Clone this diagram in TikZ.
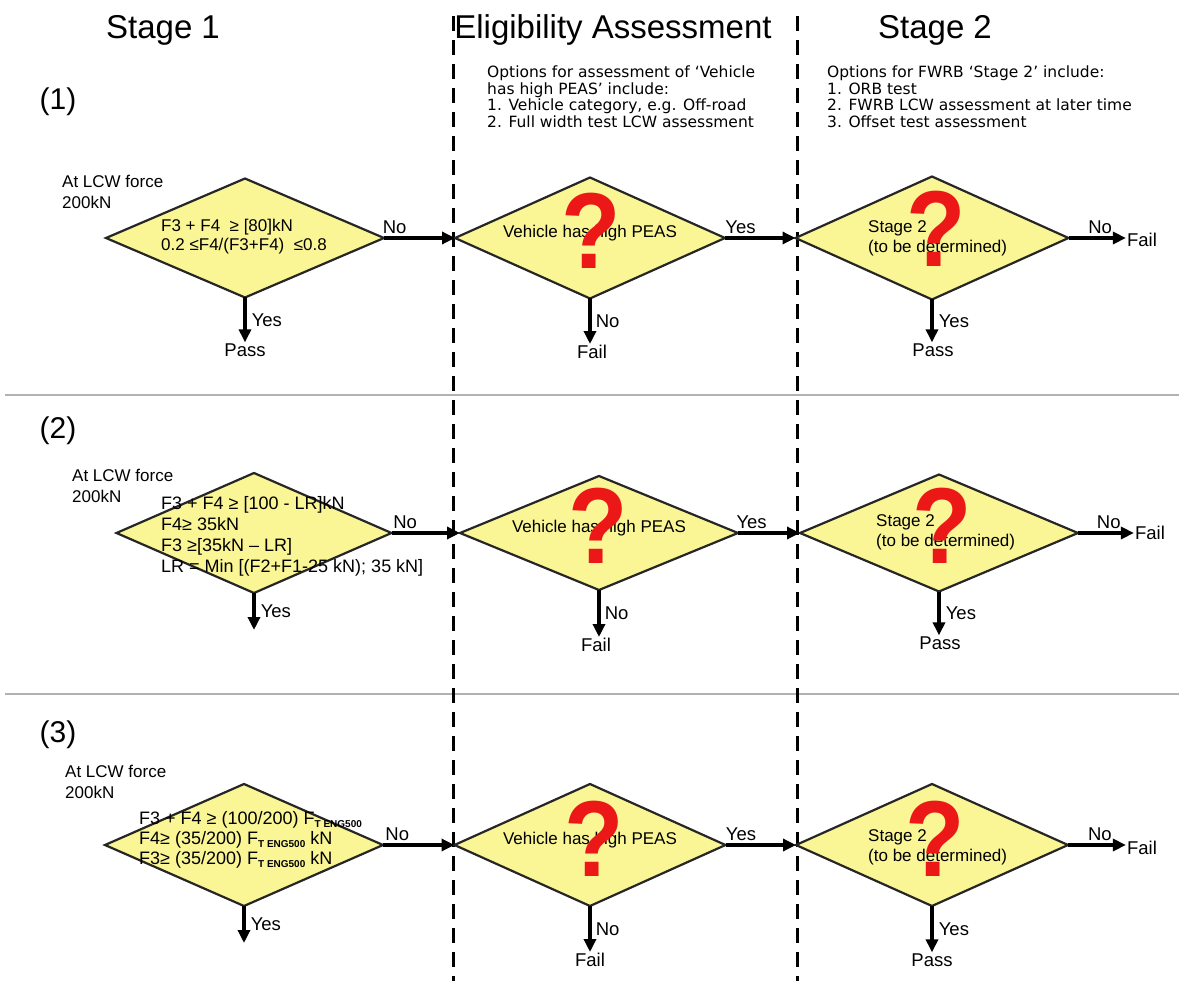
\documentclass[tikz,border=0pt]{standalone}
\usepackage{fontspec}
\setmainfont{Liberation Sans}
\newfontfamily\optfont{DejaVu Sans}
\usetikzlibrary{shapes.geometric, arrows.meta}

\definecolor{diamfill}{RGB}{250,246,150}
\definecolor{qred}{RGB}{236,24,24}
\newcommand{\qm}{\scalebox{0.9}[1]{?}}
\newcommand{\teng}{\raisebox{-0.35ex}{\fontsize{10}{10}\selectfont\bfseries T ENG500}}

\tikzset{
  diam/.style={diamond, draw=black!85, line width=2.2pt, fill=diamfill, inner sep=0pt, outer sep=0pt},
  flow/.style={-{Triangle[length=13pt,width=12pt]}, line width=3.6pt},
  lbl/.style={inner sep=1pt, font=\fontsize{18.5}{20}\selectfont},
  head/.style={font=\fontsize{33}{36}\selectfont},
  num/.style={font=\fontsize{30}{34}\selectfont},
  note/.style={inner sep=0pt, align=left, font=\fontsize{17}{21}\selectfont},
  cond/.style={inner sep=0pt, align=left, font=\fontsize{#1}{#1}\selectfont},
  dtext/.style={inner sep=0pt, align=left, font=\fontsize{17}{20}\selectfont},
  opts/.style={inner sep=0pt, align=left, font=\optfont\fontsize{15.5}{16.5}\selectfont},
  qmark/.style={inner sep=0pt, text=qred, font=\bfseries\fontsize{108}{108}\selectfont},
  col/.style={line width=3pt, dash pattern=on 15pt off 9pt},
  sep/.style={black!30, line width=1.6pt}
}

\begin{document}
\begin{tikzpicture}[x=1pt, y=-1pt]
    \useasboundingbox (0,0) rectangle (1179,981);

    % Row separators and column borders
    \draw[sep] (5,395) -- (1179,395);
    \draw[sep] (5,694) -- (1179,694);
    \draw[col] (453,16) -- (453,981);
    \draw[col] (797,16) -- (797,981);

    % Headings
    \node[head] (h1) at (163,30) {Stage 1};
    \node[head] (h2) at (613,30) {Eligibility Assessment};
    \node[head] (h3) at (935,30) {Stage 2};
    \node[num] (n1) at (58,102) {(1)};
    \node[num] (n2) at (58,431) {(2)};
    \node[num] (n3) at (58,735) {(3)};

    % Options notes
    \node[opts, anchor=north west] (o1) at (487,66) {Options for assessment of ‘Vehicle\\has high PEAS’ include:\\1. Vehicle category, e.g. Off-road\\2. Full width test LCW assessment};
    \node[opts, anchor=north west] (o2) at (827,66) {Options for FWRB ‘Stage 2’ include:\\1. ORB test\\2. FWRB LCW assessment at later time\\3. Offset test assessment};

    % Row 1
    \node[note, anchor=north west] (a1) at (62,175) {At LCW force\\200kN};
    \node[diam, minimum width=278, minimum height=119] (s1) at (245,238) {};
    \node[cond=17, anchor=north west, font=\fontsize{17}{19}\selectfont] (c1) at (161,219) {F3 + F4\ \ ≥ [80]kN\\0.2 ≤F4/(F3+F4)\ \ ≤0.8};
    \node[diam, minimum width=270, minimum height=121] (e1) at (590,238) {};
    \node[dtext] (v1) at (590,233) {Vehicle has high PEAS};
    \node[qmark] (q1) at (591,231) {\qm};
    \node[diam, minimum width=273, minimum height=123] (t1) at (932,238) {};
    \node[dtext, anchor=west] (w1) at (868,238) {Stage 2\\(to be determined)};
    \node[qmark] (r1) at (936,229) {\qm};
    \node[lbl] (p1) at (245,350) {Pass};
    \node[lbl] (f1) at (592,352) {Fail};
    \node[lbl] (g1) at (933,350) {Pass};
    \node[lbl] (k1) at (1142,240) {Fail};

    \draw[flow] (s1.east) -- node[lbl, pos=0.15, above=2pt] {No} (s1.east -| e1.west);
    \draw[flow] (e1.east) -- node[lbl, pos=0.22, above=2pt] {Yes} (e1.east -| t1.west);
    \draw[flow] (t1.east) -- node[lbl, pos=0.55, above=2pt] {No} (t1.east -| k1.west);
    \draw[flow] (s1.south) -- node[lbl, right=4pt] {Yes} (s1.south |- p1.north);
    \draw[flow] (e1.south) -- node[lbl, right=3pt] {No} (e1.south |- f1.north);
    \draw[flow] (t1.south) -- node[lbl, right=4pt] {Yes} (t1.south |- g1.north);

    % Row 2
    \node[note, anchor=north west] (a2) at (72,469) {At LCW force\\200kN};
    \node[diam, minimum width=275, minimum height=120] (s2) at (254,533) {};
    \node[cond=18, anchor=north west, font=\fontsize{18}{21}\selectfont] (c2) at (161,496) {F3 + F4 ≥ [100 - LR]kN\\F4≥ 35kN\\F3 ≥[35kN – LR]\\LR = Min [(F2+F1-25 kN); 35 kN]};
    \node[diam, minimum width=278, minimum height=114] (e2) at (599,533) {};
    \node[dtext] (v2) at (599,528) {Vehicle has high PEAS};
    \node[qmark] (q2) at (598,526) {\qm};
    \node[diam, minimum width=278, minimum height=117] (t2) at (939,533) {};
    \node[dtext, anchor=west] (w2) at (876,532) {Stage 2\\(to be determined)};
    \node[qmark] (r2) at (942,526) {\qm};
    \coordinate (p2) at (252,630);
    \node[lbl] (f2) at (596,645) {Fail};
    \node[lbl] (g2) at (940,643) {Pass};
    \node[lbl] (k2) at (1150,533) {Fail};

    \draw[flow] (s2.east) -- node[lbl, pos=0.2, above=2pt] {No} (s2.east -| e2.west);
    \draw[flow] (e2.east) -- node[lbl, pos=0.22, above=2pt] {Yes} (e2.east -| t2.west);
    \draw[flow] (t2.east) -- node[lbl, pos=0.55, above=2pt] {No} (t2.east -| k2.west);
    \draw[flow] (s2.south) -- node[lbl, right=4pt] {Yes} (s2.south |- p2);
    \draw[flow] (e2.south) -- node[lbl, right=3pt] {No} (e2.south |- f2.north);
    \draw[flow] (t2.south) -- node[lbl, right=4pt] {Yes} (t2.south |- g2.north);

    % Row 3
    \node[note, anchor=north west] (a3) at (65,765) {At LCW force\\200kN};
    \node[diam, minimum width=278, minimum height=122] (s3) at (244,845) {};
    \node[cond=18, anchor=north west, font=\fontsize{18}{20}\selectfont] (c3) at (139,811) {F3 + F4 ≥ (100/200) F\teng\\F4≥ (35/200) F\teng\ kN\\F3≥ (35/200) F\teng\ kN};
    \node[diam, minimum width=271, minimum height=122] (e3) at (590,845) {};
    \node[dtext] (v3) at (590,840) {Vehicle has high PEAS};
    \node[qmark] (q3) at (594,839) {\qm};
    \node[diam, minimum width=272, minimum height=122] (t3) at (932,845) {};
    \node[dtext, anchor=west] (w3) at (868,847) {Stage 2\\(to be determined)};
    \node[qmark] (r3) at (935,839) {\qm};
    \coordinate (p3) at (243,943);
    \node[lbl] (f3) at (590,960) {Fail};
    \node[lbl] (g3) at (932,960) {Pass};
    \node[lbl] (k3) at (1142,848) {Fail};

    \draw[flow] (s3.east) -- node[lbl, pos=0.2, above=2pt] {No} (s3.east -| e3.west);
    \draw[flow] (e3.east) -- node[lbl, pos=0.22, above=2pt] {Yes} (e3.east -| t3.west);
    \draw[flow] (t3.east) -- node[lbl, pos=0.55, above=2pt] {No} (t3.east -| k3.west);
    \draw[flow] (s3.south) -- node[lbl, right=4pt] {Yes} (s3.south |- p3);
    \draw[flow] (e3.south) -- node[lbl, right=3pt] {No} (e3.south |- f3.north);
    \draw[flow] (t3.south) -- node[lbl, right=4pt] {Yes} (t3.south |- g3.north);

\end{tikzpicture}
\end{document}
